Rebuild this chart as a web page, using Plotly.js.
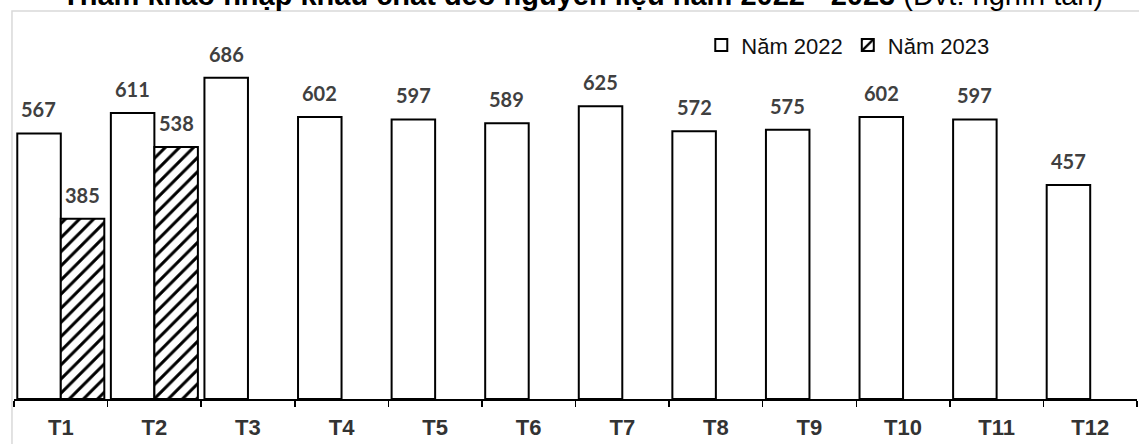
<!DOCTYPE html>
<html>
<head>
<meta charset="utf-8">
<script src="https://cdn.plot.ly/plotly-3.0.1.min.js"></script>
<style>html,body{margin:0;padding:0;background:#fff;}#chart{width:1139px;height:444px;}</style>
</head>
<body>
<div id="chart"></div>
<script>
const months = ["T1","T2","T3","T4","T5","T6","T7","T8","T9","T10","T11","T12"];
const values2022 = [567, 611, 686, 602, 597, 589, 625, 572, 575, 602, 597, 457];
const values2023 = [385, 538, null, null, null, null, null, null, null, null, null, null];
const seriesNames = ["Năm 2022", "Năm 2023"];
const titleBold = "Tham khảo nhập khẩu chất dẻo nguyên liệu năm 2022 - 2023";
const titleUnit = " (Đvt: nghìn tấn)";

const labelFont = {family: "Lato, Carlito, Calibri, sans-serif", size: 20, color: "#404040", weight: 700};

const traces = [
  {
    type: "bar", name: seriesNames[0], x: months, y: values2022,
    marker: {color: "#ffffff", line: {color: "#000000", width: 2}},
    hoverinfo: "x+y"
  },
  {
    type: "bar", name: seriesNames[1], x: months, y: values2023,
    marker: {color: "#ffffff", line: {color: "#000000", width: 2},
      pattern: {shape: "/", fgcolor: "#000000", bgcolor: "#ffffff", size: 10, solidity: 0.3}},
    hoverinfo: "x+y"
  }
];

const annotations = [];
months.forEach((m, i) => {
  if (values2022[i] != null) annotations.push({x: m, y: values2022[i], xref: "x", yref: "y",
    text: String(values2022[i]), showarrow: false, xshift: -21.8, yshift: 24, yanchor: "middle", font: labelFont});
  if (values2023[i] != null) annotations.push({x: m, y: values2023[i], xref: "x", yref: "y",
    text: String(values2023[i]), showarrow: false, xshift: 21.8, yshift: 24, yanchor: "middle", font: labelFont});
});
annotations.push({
  xref: "paper", yref: "paper", x: 0.506, y: 1, xanchor: "center", yanchor: "bottom", yshift: 17,
  showarrow: false, text: "<b>" + titleBold + "</b>" + titleUnit,
  font: {family: "Liberation Sans, Arial, sans-serif", size: 29, color: "#000000"}
});

const layout = {
  width: 1139, height: 444,
  margin: {l: 14, r: 2, t: 30, b: 45, pad: 0},
  paper_bgcolor: "#ffffff", plot_bgcolor: "#ffffff",
  barmode: "group", bargap: 0.07, bargroupgap: 0,
  showlegend: true,
  legend: {orientation: "h", x: 0.612, y: 0.959, xanchor: "left", yanchor: "middle",
    font: {family: "Liberation Sans, Arial, sans-serif", size: 22, color: "#111111"},
    bgcolor: "rgba(0,0,0,0)", itemwidth: 30, tracegroupgap: 0},
  xaxis: {
    type: "category", tickson: "boundaries", ticks: "outside", ticklen: 6, tickwidth: 1.5, tickcolor: "#000",
    showline: true, linecolor: "#000", linewidth: 2, showgrid: false, zeroline: false,
    ticklabelstandoff: 8,
    tickfont: {family: "Liberation Sans Narrow, Arial Narrow, Liberation Sans, sans-serif", size: 22, color: "#333333", weight: 700},
    fixedrange: true
  },
  yaxis: {range: [0, 788], visible: false, showgrid: false, zeroline: false, fixedrange: true},
  annotations: annotations,
  shapes: [{type: "rect", xref: "paper", yref: "paper", x0: -0.0018, x1: 1.01, y0: -0.3, y1: 1.0515,
    line: {color: "#d9d9d9", width: 1.5}, fillcolor: "rgba(0,0,0,0)", layer: "below"}]
};

Plotly.newPlot("chart", traces, layout, {displayModeBar: false, staticPlot: true});
</script>
</body>
</html>
